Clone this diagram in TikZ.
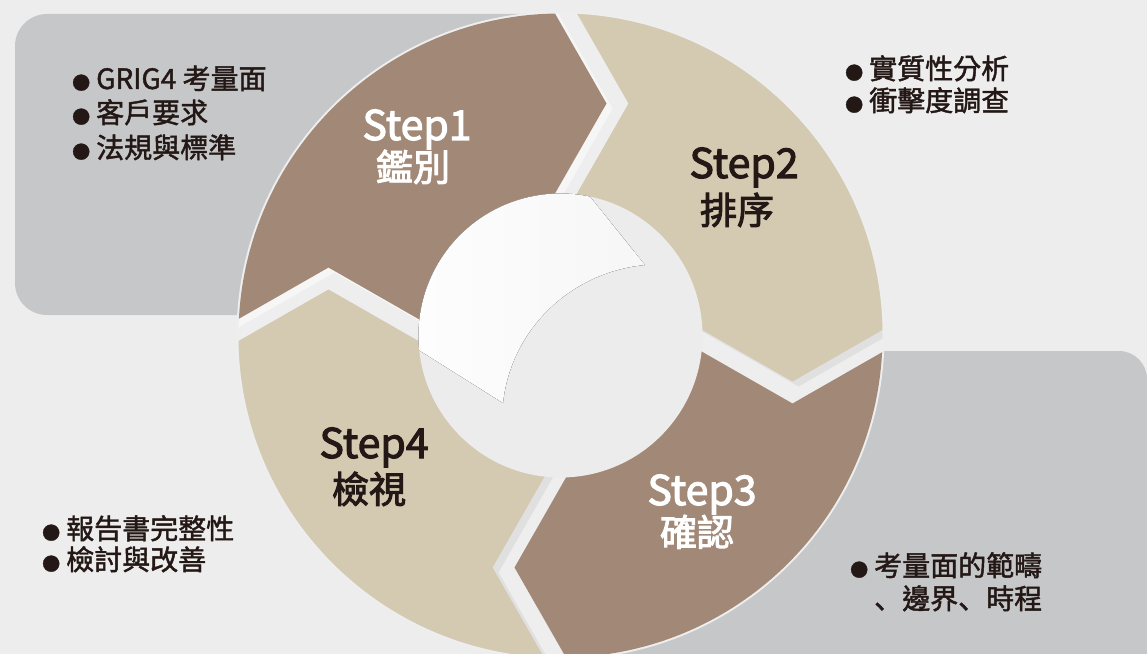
\documentclass[tikz,border=0pt]{standalone}
\usepackage{fontspec}
\setmainfont{Noto Sans CJK TC}[FakeBold=1.6]
\newfontfamily\stepfont{Noto Sans CJK TC}[FakeBold=2.6]
\newfontfamily\cjksc{Noto Sans CJK SC}[FakeBold=1.6]
\definecolor{bgc}{HTML}{EDEDED}
\definecolor{boxc}{HTML}{C6C7C9}
\definecolor{brownc}{HTML}{A28876}
\definecolor{creamc}{HTML}{D4C9B1}
\definecolor{ink}{HTML}{231815}
\definecolor{basec}{HTML}{EEEEEE}
\definecolor{holec}{HTML}{ECECEC}
\definecolor{shadelight}{HTML}{F6F6F6}
\definecolor{shadedark}{HTML}{E0E0E0}
\newcommand\bul{\makebox[24bp][l]{\raisebox{-0.5bp}{\fontsize{18bp}{18bp}\selectfont ●}}}
\newcommand\segA{(508.5,370.5) -- (328.5,267.5) -- (148.5,370.5) -- (-300,-300) -- (503.5,-76.5) -- (606.5,103.5) -- (503.5,283.5) -- cycle}
\newcommand\segB{(525.5,283.5) -- (628.5,103.5) -- (525.5,-76.5) -- (1400,-300) -- (972.5,278.5) -- (792.5,381.5) -- (612.5,278.5) -- cycle}
\newcommand\segC{(612.5,300.5) -- (792.5,403.5) -- (972.5,300.5) -- (1400,1000) -- (617.5,747.5) -- (514.5,567.5) -- (617.5,387.5) -- cycle}
\newcommand\segD{(595.5,387.5) -- (492.5,567.5) -- (595.5,747.5) -- (-300,1000) -- (148.5,392.5) -- (328.5,289.5) -- (508.5,392.5) -- cycle}
\begin{document}
\begin{tikzpicture}[x=1bp,y=-1bp,
  steptxt/.style={font=\stepfont\fontsize{41bp}{41bp}\selectfont, inner sep=0pt, anchor=base},
  stepcjk/.style={font=\stepfont\fontsize{37bp}{37bp}\selectfont, inner sep=0pt, anchor=base},
  item/.style={font=\fontsize{28bp}{28bp}\selectfont, text=ink, inner sep=0pt, anchor=base west}]
\useasboundingbox (0,0) rectangle (1147,654);
\fill[bgc] (0,0) rectangle (1147,654);
\clip (0,0) rectangle (1147,654);
\coordinate (C) at (560.5,335.5);
% grey panels
\fill[boxc, rounded corners=32bp] (15,14) rectangle (600,315);
\fill[boxc, rounded corners=28bp] (560,351) rectangle (1147,720);
% ring base
\fill[basec] (C) circle[radius=324bp];
% extrusion shadows
\begin{scope}[shift={(6,5)}]
  \clip (C) circle[radius=322bp];
  \fill[shadelight] \segA;
  \fill[shadedark] \segB;
  \fill[shadelight] \segC;
  \fill[shadedark] \segD;
\end{scope}
% segments
\begin{scope}
  \clip (C) circle[radius=322bp];
  \fill[brownc] \segA;
  \fill[creamc] \segB;
  \fill[brownc] \segC;
  \fill[creamc] \segD;
\end{scope}
% hole
\fill[holec] (C) circle[radius=142bp];
\fill[left color=white!90!holec, right color=white!55!holec] (590,196.6) arc[start angle=78, end angle=186, radius=142bp] -- (503,403) .. controls (511,329) and (571,272) .. (645,265) -- cycle;
% step labels
\node[steptxt, text=white] (s1) at (417,140) {Step1};
\node[stepcjk, text=white] (s1c) at (413,181) {鑑別};
\node[steptxt, text=ink] (s2) at (744,178) {Step2};
\node[stepcjk, text=ink] (s2c) at (737,224) {排序};
\node[steptxt, text=white] (s3) at (702,505) {Step3};
\node[stepcjk, text=white] (s3c) at (697,546) {確認};
\node[steptxt, text=ink] (s4) at (374,458) {Step4};
\node[stepcjk, text=ink] (s4c) at (369,503) {檢視};
% bullet lists
\node[item] (l1a) at (72,89) {\bul GRIG4 考量面};
\node[item] (l1b) at (72,123) {\bul 客戶要求};
\node[item] (l1c) at (72,158) {\bul 法規與標準};
\node[item] (l2a) at (845,79) {\bul 實質性分析};
\node[item] (l2b) at (845,111) {\bul 衝擊度調查};
\node[item] (l4a) at (42,539) {\bul 報告書完整性};
\node[item] (l4b) at (42,570) {\bul 檢討與改善};
\node[item] (l3a) at (850,576) {\bul 考量面的範疇};
\node[item] (l3b) at (850,609) {\hspace*{24bp}{\cjksc 、}邊界{\cjksc 、}時程};
\end{tikzpicture}
\end{document}
